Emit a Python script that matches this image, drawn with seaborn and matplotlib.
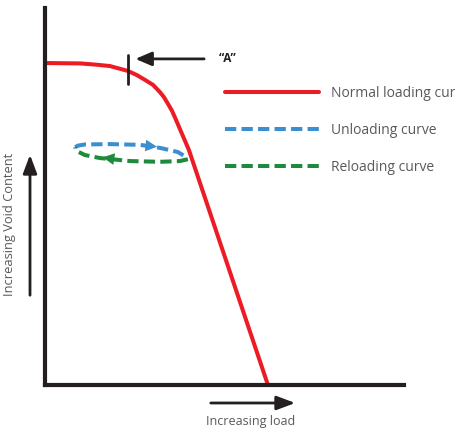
import numpy as np
import pandas as pd
import matplotlib
matplotlib.use('Agg')
import matplotlib.pyplot as plt
import seaborn as sns

# ========== DATA (load vs void content, both on a 0-100 schematic scale) ==========
CURVES = ['Normal loading curve', 'Unloading curve', 'Reloading curve']

normal_load = [0.6, 9.8, 13.9, 18.1, 23.1, 25.6, 27.9, 30.1, 32.0, 33.1, 34.3, 35.4, 36.5, 40.1, 62.1]
normal_void = [85.4, 85.3, 85.0, 84.6, 83.3, 82.2, 80.9, 79.6, 77.7, 76.4, 74.5, 72.7, 70.3, 62.3, 0.0]

unload_load = [8.4, 9.2, 11.1, 18.1, 26.5, 32.0, 37.0, 39.8]
unload_void = [63.1, 63.5, 63.8, 63.9, 63.7, 62.9, 61.8, 60.2]

reload_load = [39.8, 37.6, 32.0, 23.7, 15.3, 11.1, 9.4, 8.6, 8.4]
reload_void = [59.9, 59.4, 59.2, 59.4, 60.2, 61.0, 61.8, 62.5, 63.1]

point_a_load = 23.1
point_a_void = [79.8, 87.5]

COLORS = {'Normal loading curve': '#ED1C24',
          'Unloading curve': '#3B8FD0',
          'Reloading curve': '#1E8A3C'}
DASHES = {'Normal loading curve': '',
          'Unloading curve': (2.8, 1.3),
          'Reloading curve': (2.8, 1.3)}
INK = '#231F20'
GREY = '#58595B'

df = pd.concat([
    pd.DataFrame({'load': normal_load, 'void': normal_void, 'curve': CURVES[0]}),
    pd.DataFrame({'load': unload_load, 'void': unload_void, 'curve': CURVES[1]}),
    pd.DataFrame({'load': reload_load, 'void': reload_void, 'curve': CURVES[2]}),
], ignore_index=True)

# ========== PLOT ==========
sns.set_style('white')
plt.rcParams['font.family'] = ['Open Sans', 'DejaVu Sans']

fig = plt.figure(figsize=(4.56, 4.32), dpi=100)
ax = fig.add_axes([45/456, 47/432, 359/456, 377/432])

sns.lineplot(data=df, x='load', y='void', hue='curve', style='curve',
             hue_order=CURVES, style_order=CURVES, palette=COLORS, dashes=DASHES,
             sort=False, estimator=None, linewidth=2.9, ax=ax)

ax.set_xlim(0, 100)
ax.set_ylim(0, 100)
ax.set_xticks([])
ax.set_yticks([])
ax.set_xlabel('')
ax.set_ylabel('')
sns.despine(ax=ax)
for side in ['left', 'bottom']:
    ax.spines[side].set_color(INK)
    ax.spines[side].set_linewidth(3)

# direction heads on the loop
ax.annotate('', xy=(32.0, 63.1), xytext=(29.2, 63.4),
            arrowprops=dict(arrowstyle='-|>,head_length=0.6,head_width=0.3',
                            color=COLORS['Unloading curve'], lw=0, mutation_scale=14))
ax.annotate('', xy=(15.3, 60.5), xytext=(18.1, 60.1),
            arrowprops=dict(arrowstyle='-|>,head_length=0.6,head_width=0.3',
                            color=COLORS['Reloading curve'], lw=0, mutation_scale=14))

# point "A"
ax.plot([point_a_load, point_a_load], point_a_void, color=INK, lw=2)
ax.annotate('', xy=(24.4, 86.5), xytext=(45.1, 86.5),
            arrowprops=dict(arrowstyle='-|>,head_length=0.7,head_width=0.3',
                            color=INK, lw=2, mutation_scale=14))
ax.text(51.0, 86.5, '\u201cA\u201d', ha='center', va='center',
        fontsize=8.5, fontweight='bold', color=INK)

# legend (the reference crops the first label at the figure edge)
handles, labels = ax.get_legend_handles_labels()
keep = [i for i, l in enumerate(labels) if l in CURVES]
ax.legend([handles[i] for i in keep], [labels[i] for i in keep],
          loc='upper left', bbox_to_anchor=(225/456, (432-86)/432),
          bbox_transform=fig.transFigure, frameon=False, borderpad=0,
          borderaxespad=0, handlelength=6.8, handletextpad=0.85,
          labelspacing=1.58, fontsize=10, labelcolor=GREY)

# axis direction arrows and labels
ax.annotate('', xy=(30, 280), xytext=(30, 134), xycoords='figure pixels',
            textcoords='figure pixels',
            arrowprops=dict(arrowstyle='-|>,head_length=0.8,head_width=0.3',
                            color=INK, lw=2, mutation_scale=14))
ax.annotate('', xy=(298, 29), xytext=(208, 29), xycoords='figure pixels',
            textcoords='figure pixels',
            arrowprops=dict(arrowstyle='-|>,head_length=0.8,head_width=0.3',
                            color=INK, lw=2, mutation_scale=14))
fig.text(10/456, (432-224)/432, 'Increasing Void Content', rotation=90,
         ha='center', va='center', fontsize=9.3, color=GREY)
fig.text(251/456, (432-422)/432, 'Increasing load', ha='center', va='center',
         fontsize=9, color=GREY)

plt.savefig('out.png', dpi=100)
